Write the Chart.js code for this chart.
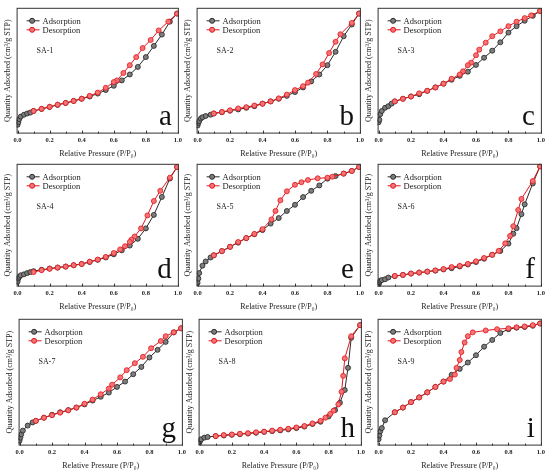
<!DOCTYPE html>
<html>
<head>
<meta charset="utf-8">
<script src="https://cdn.jsdelivr.net/npm/chart.js@4.4.1/dist/chart.umd.min.js"></script>
<style>
    html, body { margin: 0; padding: 0; background: #fff; }
    #wrap { position: relative; width: 550px; height: 472px; overflow: hidden; }
    .cell { position: absolute; }
</style>
</head>
<body>
<div id="wrap"></div>
<script>
"use strict";

//=> Data (relative pressure, quantity adsorbed in frame units 0-100)
var tickVals = [0, 0.2, 0.4, 0.6, 0.8, 1.0];
var minorVals = [0.1, 0.3, 0.5, 0.7, 0.9];
var sampleNames = ['SA-1', 'SA-2', 'SA-3', 'SA-4', 'SA-5', 'SA-6', 'SA-7', 'SA-8', 'SA-9'];
var panelLetters = ['a', 'b', 'c', 'd', 'e', 'f', 'g', 'h', 'i'];
var seriesNames = ['Adsorption', 'Desorption'];

var adsA = [[0,7],[0.005,9],[0.01,11.5],[0.02,13.5],[0.04,15],[0.06,16],[0.08,16.7],[0.1,18],[0.15,19.6],[0.2,21.2],[0.25,22.8],[0.3,24.3],[0.35,25.9],[0.4,27.7],[0.45,29.5],[0.5,31.8],[0.55,34.6],[0.6,38],[0.65,42.3],[0.7,47],[0.75,53],[0.8,60.8],[0.85,69.7],[0.9,78.7],[0.95,89],[0.995,95.4]];
var desA = [[0.995,95.4],[0.94,89],[0.88,82],[0.83,74.4],[0.78,68],[0.74,60.8],[0.7,54.4],[0.66,48.2],[0.62,42.3],[0.6,41],[0.55,36.4],[0.5,32.6],[0.45,30],[0.4,27.7],[0.35,26],[0.3,24.4],[0.25,23],[0.2,21.3],[0.15,19.7],[0.1,18]];

var adsB = [[0,6.4],[0.005,8.5],[0.01,10],[0.02,12],[0.03,13],[0.05,14],[0.08,15],[0.1,16],[0.15,17],[0.2,18.2],[0.25,19.2],[0.3,20.5],[0.35,21.8],[0.4,23.8],[0.45,25.6],[0.5,27.7],[0.55,30],[0.6,33],[0.65,36.7],[0.7,41.5],[0.75,47],[0.8,54.4],[0.85,65],[0.9,77.4],[0.95,86.7],[0.995,95.4]];
var desB = [[0.995,95.4],[0.95,88],[0.88,79],[0.85,73],[0.81,64],[0.77,55],[0.73,47.4],[0.68,40.5],[0.65,37.7],[0.6,34.6],[0.55,31],[0.5,28],[0.45,25.6],[0.4,23.8],[0.35,22.3],[0.3,21],[0.25,20],[0.2,18.5],[0.15,17.2],[0.1,16]];

var adsC = [[0,9],[0.005,11],[0.01,15.4],[0.02,18],[0.04,20.5],[0.06,21.8],[0.08,23.8],[0.1,25.6],[0.15,27.7],[0.2,29.5],[0.25,31.3],[0.3,34],[0.35,36.7],[0.4,39.7],[0.45,42.8],[0.5,45.9],[0.55,49.2],[0.6,54.6],[0.65,60.3],[0.7,65.9],[0.75,72.6],[0.8,80.3],[0.85,85.4],[0.9,89.7],[0.95,93.6],[0.995,97.4]];
var desC = [[0.995,97.4],[0.94,94],[0.9,91.8],[0.85,89],[0.8,85.4],[0.75,81.3],[0.7,77.4],[0.66,72.3],[0.62,66.7],[0.6,62.3],[0.57,56.4],[0.55,54.4],[0.52,49.5],[0.5,47],[0.45,43.6],[0.4,39.7],[0.35,36.7],[0.3,34],[0.25,32],[0.2,29.5],[0.15,27.7],[0.1,25.6]];

var adsD = [[0,4],[0.005,6.6],[0.01,8],[0.02,9.2],[0.04,10],[0.06,11],[0.08,11.8],[0.1,12.6],[0.15,13.7],[0.2,14.7],[0.25,15.5],[0.3,16.3],[0.35,17.4],[0.4,18.4],[0.45,20],[0.5,21.8],[0.55,23.7],[0.6,26.3],[0.65,29.5],[0.7,33.4],[0.75,38.9],[0.8,47.4],[0.85,58.4],[0.9,73],[0.95,88],[0.995,97.4]];
var desD = [[0.995,97.4],[0.95,88.7],[0.89,78],[0.85,69.7],[0.81,58],[0.77,47.4],[0.73,40.8],[0.71,38.2],[0.7,36.3],[0.67,32.9],[0.64,30.3],[0.6,27.4],[0.55,24.2],[0.5,22],[0.45,20.3],[0.4,18.4],[0.35,17.4],[0.3,16.3],[0.25,15.5],[0.2,14.5],[0.15,13.4],[0.1,11.8]];

var adsE = [[0,3],[0.005,6.6],[0.01,11],[0.03,17],[0.05,20.5],[0.08,23.7],[0.1,25.5],[0.15,28.9],[0.2,32.4],[0.25,35.8],[0.3,39.5],[0.35,42.6],[0.4,46],[0.45,51.3],[0.5,55.8],[0.55,61.6],[0.6,66.6],[0.65,72.9],[0.7,78],[0.75,82.4],[0.8,87.9],[0.85,90],[0.9,92],[0.95,94.2],[0.995,97.4]];
var desE = [[0.995,97.4],[0.95,94.2],[0.9,92],[0.83,89.5],[0.8,88.7],[0.74,88.2],[0.68,86.8],[0.64,85],[0.6,82.9],[0.55,77.6],[0.51,70.3],[0.48,61.6],[0.455,54.7],[0.4,46.8],[0.35,42.9],[0.3,39.5],[0.25,36.3],[0.2,32.4],[0.15,28.9],[0.1,25.5]];

var adsF = [[0,1.6],[0.005,3.4],[0.01,4.8],[0.02,5.3],[0.04,6],[0.06,7.4],[0.1,8.5],[0.15,9.5],[0.2,10.6],[0.25,11.4],[0.3,12.2],[0.35,13],[0.4,14],[0.45,15],[0.5,16.4],[0.55,18],[0.6,20],[0.65,22.7],[0.7,25.9],[0.75,29],[0.8,35],[0.83,43],[0.85,47.6],[0.88,59],[0.9,67],[0.95,84],[0.995,97.9]];
var desF = [[0.995,97.9],[0.95,86],[0.88,71.4],[0.86,62.4],[0.83,49.2],[0.81,41.3],[0.78,35.2],[0.74,29.1],[0.7,25.9],[0.65,23.3],[0.6,20.6],[0.55,18.5],[0.5,16.9],[0.45,15.9],[0.4,14.3],[0.35,13.2],[0.3,12.2],[0.25,11.4],[0.2,10.6],[0.15,9.5],[0.1,8.7]];

var adsG = [[0,3.8],[0.005,6.3],[0.01,8.8],[0.02,11.8],[0.05,15.8],[0.08,18.3],[0.1,19.5],[0.15,22],[0.2,24.3],[0.25,26.3],[0.3,28],[0.35,30],[0.4,32.5],[0.45,35.5],[0.5,38.5],[0.55,41.8],[0.6,46.3],[0.65,50.5],[0.7,56.3],[0.75,62],[0.8,69.5],[0.85,75.5],[0.9,81.8],[0.95,89.3],[0.995,92.5]];
var desG = [[0.995,92.5],[0.95,89.3],[0.9,86.3],[0.87,82.5],[0.81,76.8],[0.76,70],[0.71,65],[0.66,59.5],[0.62,53.8],[0.57,48],[0.55,45],[0.5,40.5],[0.45,36.3],[0.4,33],[0.35,30],[0.3,27.8],[0.25,26],[0.2,24],[0.15,22],[0.1,19.5]];

var adsH = [[0,2.5],[0.005,4.3],[0.01,5],[0.03,6.3],[0.05,6.8],[0.1,7.5],[0.15,8],[0.2,8.5],[0.25,9],[0.3,9.5],[0.35,10.1],[0.4,10.8],[0.45,11.4],[0.5,12],[0.55,12.8],[0.6,13.8],[0.65,15],[0.7,17],[0.75,18.8],[0.8,23],[0.84,28],[0.87,33.8],[0.9,43.8],[0.92,61.3],[0.94,85],[0.995,95]];
var desH = [[0.995,95],[0.94,86.3],[0.9,68.8],[0.89,55],[0.88,42.5],[0.86,32.5],[0.83,27.5],[0.81,25],[0.78,22],[0.75,19.5],[0.7,17.5],[0.65,15.5],[0.6,14.3],[0.55,13.3],[0.5,12.5],[0.45,11.8],[0.4,11],[0.35,10.5],[0.3,9.8],[0.25,9.3],[0.2,8.8],[0.15,8.3],[0.1,7.5]];

var adsI = [[0,5],[0.005,8],[0.01,11.3],[0.02,13.8],[0.04,20],[0.1,26.3],[0.15,30],[0.2,34.3],[0.25,38],[0.3,42],[0.35,46.3],[0.4,50.5],[0.45,55.8],[0.5,60.5],[0.55,65.5],[0.6,71.3],[0.65,78],[0.7,83.3],[0.75,88.8],[0.8,91.8],[0.85,93],[0.9,93.5],[0.95,94.5],[0.995,96.3]];
var desI = [[0.995,96.3],[0.95,95],[0.9,94],[0.85,93.3],[0.8,92.5],[0.73,91.8],[0.66,90.8],[0.58,89.3],[0.55,86.3],[0.53,81.3],[0.51,73.8],[0.5,67.5],[0.48,61.3],[0.47,56],[0.44,52.5],[0.4,50.5],[0.35,46.3],[0.3,42],[0.25,38],[0.2,34.3],[0.15,30],[0.1,26.3]];

var adsSeries = [adsA, adsB, adsC, adsD, adsE, adsF, adsG, adsH, adsI];
var desSeries = [desA, desB, desC, desD, desE, desF, desG, desH, desI];

//=> Layout of the nine frames (left, right per column; top, bottom per row)
var colFrames = [[[17, 180], [197, 362], [378, 543]],
                 [[17, 180], [197, 362], [378, 543]],
                 [[19, 184], [199, 363], [378, 543]]];
var rowFrames = [[4, 136], [160, 289], [315, 448]];

var serif = '"Liberation Serif", "Times New Roman", serif';
var adsColor = '#2b2b2b';
var desColor = '#e3161c';

//=> Frame, inner ticks, legend, sample name and panel letter
var panelDecor = {
    id: 'panelDecor',
    afterDatasetsDraw: function (chart, args, opts) {
        var ctx = chart.ctx;
        var area = chart.chartArea;
        var xs = chart.scales.x;
        ctx.save();

        ctx.strokeStyle = '#333';
        ctx.lineWidth = 1;
        ctx.strokeRect(area.left + 0.5, area.top + 0.5, area.width - 1, area.height - 1);

        ctx.beginPath();
        tickVals.forEach(function (v) {
            var px = Math.round(xs.getPixelForValue(v)) + 0.5;
            ctx.moveTo(px, area.bottom);
            ctx.lineTo(px, area.bottom - 3);
        });
        minorVals.forEach(function (v) {
            var px = Math.round(xs.getPixelForValue(v)) + 0.5;
            ctx.moveTo(px, area.bottom);
            ctx.lineTo(px, area.bottom - 2);
        });
        ctx.stroke();

        // legend: line with a marker, then the series name
        ctx.font = '8.5px ' + serif;
        ctx.textBaseline = 'middle';
        ctx.textAlign = 'left';
        chart.data.datasets.forEach(function (ds, i) {
            var ly = area.top + 13 + i * 9;
            var lx = area.left + 10;
            ctx.strokeStyle = ds.borderColor;
            ctx.lineWidth = 1;
            ctx.beginPath();
            ctx.moveTo(lx, ly);
            ctx.lineTo(lx + 13, ly);
            ctx.stroke();
            ctx.beginPath();
            ctx.arc(lx + 5.5, ly, 2.5, 0, Math.PI * 2);
            ctx.fillStyle = ds.pointBackgroundColor;
            ctx.fill();
            ctx.stroke();
            ctx.fillStyle = '#222';
            ctx.fillText(ds.label, lx + 16, ly + 0.5);
        });

        ctx.font = '8px ' + serif;
        ctx.fillStyle = '#222';
        ctx.fillText(opts.sample, area.left + 20, area.top + 43);

        ctx.font = '29px ' + serif;
        ctx.textAlign = 'right';
        ctx.textBaseline = 'alphabetic';
        ctx.fillStyle = '#111';
        ctx.fillText(opts.letter, area.right - 7, area.bottom - 9);

        ctx.restore();
    }
};

var makePanel = function (idx) {
    var r = Math.floor(idx / 3), c = idx % 3;
    var fl = colFrames[r][c][0], fr = colFrames[r][c][1];
    var ft = rowFrames[r][0], fb = rowFrames[r][1];
    var padTop = 1, padRight = 5, yAxisW = 18, xAxisH = 24;

    var div = document.createElement('div');
    div.className = 'cell';
    var w = (fr - fl) + yAxisW + padRight;
    var h = (fb - ft) + padTop + xAxisH;
    div.style.left = (fl - yAxisW) + 'px';
    div.style.top = (ft - padTop) + 'px';
    div.style.width = w + 'px';
    div.style.height = h + 'px';
    var canvas = document.createElement('canvas');
    canvas.width = w;
    canvas.height = h;
    canvas.style.width = w + 'px';
    canvas.style.height = h + 'px';
    div.appendChild(canvas);
    document.getElementById('wrap').appendChild(div);

    var toPts = function (arr) {
        return arr.map(function (p) { return { x: p[0], y: p[1] }; });
    };

    new Chart(canvas.getContext('2d'), {
        type: 'scatter',
        data: {
            datasets: [{
                label: seriesNames[0],
                data: toPts(adsSeries[idx]),
                showLine: true,
                borderColor: adsColor,
                borderWidth: 1,
                pointRadius: 2.5,
                pointBorderWidth: 0.8,
                pointBackgroundColor: '#7d7d7d',
                pointBorderColor: '#222',
                order: 1
            }, {
                label: seriesNames[1],
                data: toPts(desSeries[idx]),
                showLine: true,
                borderColor: desColor,
                borderWidth: 1,
                pointRadius: 2.5,
                pointBorderWidth: 0.8,
                pointBackgroundColor: '#f47476',
                pointBorderColor: desColor,
                order: 0
            }]
        },
        options: {
            responsive: false,
            animation: false,
            devicePixelRatio: 1,
            layout: { padding: { top: padTop, right: padRight, left: 0, bottom: 0 } },
            plugins: {
                legend: { display: false },
                tooltip: { enabled: false },
                panelDecor: { sample: sampleNames[idx], letter: panelLetters[idx] }
            },
            scales: {
                x: {
                    type: 'linear',
                    min: -0.006,
                    max: 1.006,
                    afterBuildTicks: function (scale) {
                        scale.ticks = tickVals.map(function (v) { return { value: v }; });
                    },
                    grid: { display: false, drawTicks: false },
                    border: { display: false },
                    ticks: {
                        autoSkip: false,
                        maxRotation: 0,
                        padding: 3,
                        color: '#222',
                        font: { family: serif, size: 6.5, weight: 'bold' },
                        callback: function (v) { return Number(v).toFixed(1); }
                    },
                    title: {
                        display: true,
                        text: 'Relative Pressure (P/P\u2080)',
                        color: '#222',
                        font: { family: serif, size: 8 },
                        padding: { top: 2, bottom: 1 }
                    }
                },
                y: {
                    min: 0,
                    max: 100,
                    grid: { display: false, drawTicks: false },
                    border: { display: false },
                    ticks: { display: false },
                    title: {
                        display: true,
                        text: 'Quantity Adsorbed (cm\u00b3/g STP)',
                        color: '#222',
                        font: { family: serif, size: 8 },
                        padding: { top: 4, bottom: 4 }
                    }
                }
            }
        },
        plugins: [panelDecor]
    });
};

for (var i = 0; i < 9; i++) {
    makePanel(i);
}
</script>
</body>
</html>
